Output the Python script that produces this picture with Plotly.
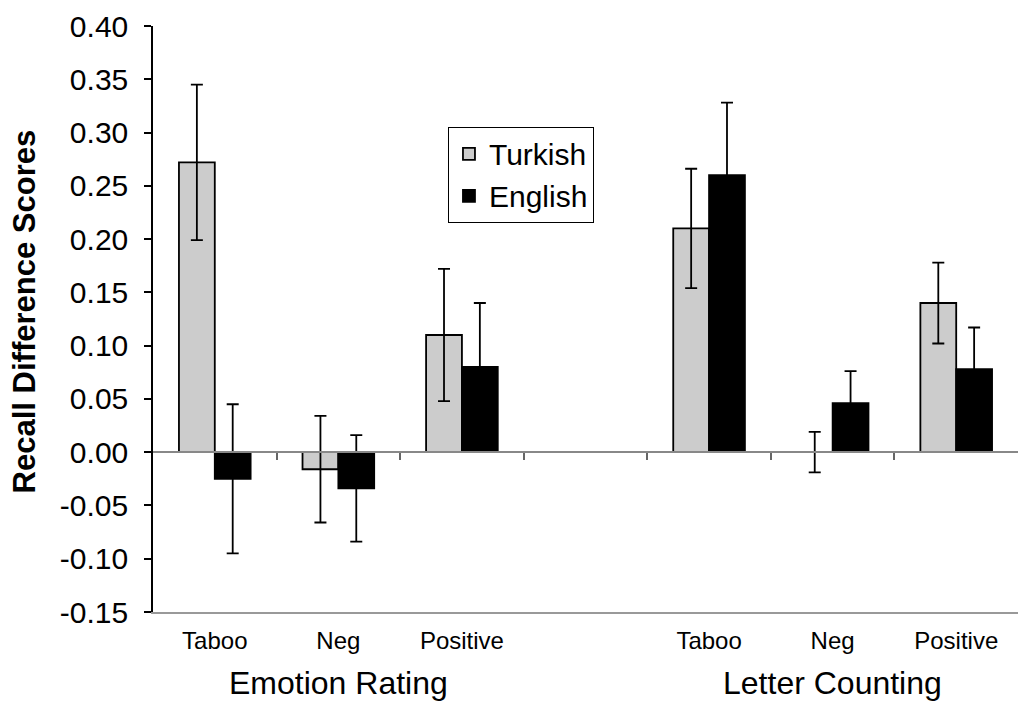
import plotly.graph_objects as go

categories = ["Taboo", "Neg", "Positive", "", "Taboo", "Neg", "Positive"]
groups = ["Emotion Rating", "Letter Counting"]
group_centers = [1, 5]
turkish = [0.272, -0.016, 0.110, None, 0.210, 0.000, 0.140]
turkish_err = [0.073, 0.050, 0.062, None, 0.056, 0.019, 0.038]
english = [-0.025, -0.034, 0.080, None, 0.260, 0.046, 0.078]
english_err = [0.070, 0.050, 0.060, None, 0.068, 0.030, 0.039]
y_ticks = [-0.15, -0.10, -0.05, 0.00, 0.05, 0.10, 0.15, 0.20, 0.25, 0.30, 0.35, 0.40]

x = list(range(len(categories)))
FONT = "Arial, Liberation Sans, sans-serif"

fig = go.Figure()
fig.add_trace(go.Bar(
    x=x, y=turkish, name="Turkish",
    marker=dict(color="#CCCCCC", line=dict(color="black", width=1.8)),
    error_y=dict(type="data", array=turkish_err, color="black", thickness=1.8, width=6),
))
fig.add_trace(go.Bar(
    x=x, y=english, name="English",
    marker=dict(color="black", line=dict(color="black", width=1.8)),
    error_y=dict(type="data", array=english_err, color="black", thickness=1.8, width=6),
))
# invisible trace on overlay axis to show tick marks along the zero line
fig.add_trace(go.Scatter(x=[x[0]], y=[0], xaxis="x2", mode="markers",
                         marker=dict(opacity=0), showlegend=False, hoverinfo="skip"))

ymin, ymax = y_ticks[0], y_ticks[-1]
fig.update_layout(
    width=1018, height=707,
    margin=dict(l=153, r=0, t=26, b=95, autoexpand=False),
    paper_bgcolor="white", plot_bgcolor="white",
    barmode="group", bargap=0.42, bargroupgap=0,
    font=dict(family=FONT, color="black"),
    showlegend=True,
    legend=dict(x=0.341, y=0.828, xanchor="left", yanchor="top",
                bordercolor="black", borderwidth=1, bgcolor="white",
                font=dict(size=30, family=FONT), tracegroupgap=0,
                itemwidth=30),
    xaxis=dict(range=[-0.5, len(categories) - 0.5], tickmode="array",
               tickvals=x, ticktext=categories, ticks="",
               showline=True, linecolor="#999999", linewidth=1.5,
               tickfont=dict(size=24, family=FONT), showgrid=False,
               zeroline=False, automargin=False, ticklabelstandoff=6),
    xaxis2=dict(overlaying="x", anchor="free",
                position=(0 - ymin) / (ymax - ymin),
                range=[-0.5, len(categories) - 0.5],
                tickmode="array", tickvals=[i + 0.5 for i in x[:-1]],
                ticks="outside", ticklen=7, tickcolor="#666666", tickwidth=1.5,
                showticklabels=False, showline=True, linecolor="#888888",
                linewidth=1.5, showgrid=False, zeroline=False),
    yaxis=dict(range=[ymin, ymax], tickmode="array", tickvals=y_ticks,
               ticktext=[f"{v:.2f}" for v in y_ticks],
               ticks="outside", ticklen=7, tickcolor="black", tickwidth=1.5,
               showline=True, linecolor="black", linewidth=1.5,
               showgrid=False, zeroline=False, automargin=False,
               ticklabelstandoff=10,
               tickfont=dict(size=30, family=FONT)),
)

fig.add_annotation(x=0, y=0.513, xref="paper", yref="paper", xshift=-129,
                   xanchor="center", yanchor="middle",
                   text="<b>Recall Difference Scores</b>", textangle=-90,
                   showarrow=False, font=dict(size=31, family=FONT))

for g, c in zip(groups, group_centers):
    fig.add_annotation(x=c, y=0, xref="x", yref="paper", yshift=-71,
                       text=g, showarrow=False, yanchor="middle",
                       font=dict(size=32, family=FONT))

fig.write_html("out.html", config={"displayModeBar": False},
               post_script="document.body.style.margin='0';")
